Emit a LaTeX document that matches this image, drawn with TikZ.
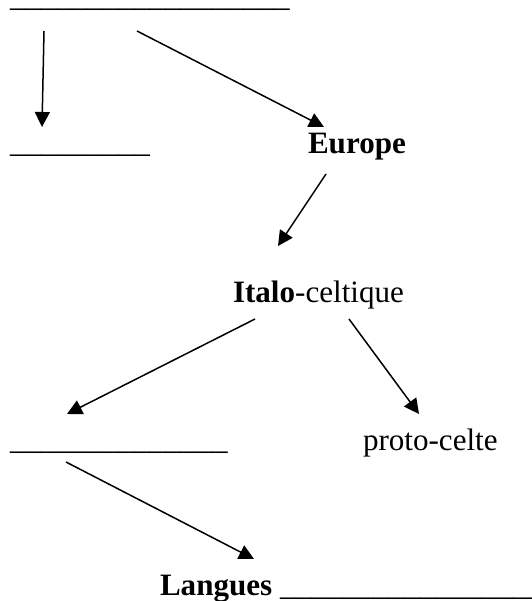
\documentclass[tikz,border=0pt]{standalone}
\usepackage{fontspec}
\setmainfont{Liberation Serif}
\usetikzlibrary{arrows.meta,calc}
\tikzset{
  lbl/.style={inner sep=0pt, outer sep=0pt, anchor=base west, font=\fontsize{31.2}{36}\selectfont},
  arr/.style={line width=1.5bp, -{Triangle[length=15bp,width=15bp]}}
}
\begin{document}
\begin{tikzpicture}[x=1bp,y=-1bp]
\useasboundingbox (0,0) rectangle (532,601);
\node[lbl] (top) at (10,7) {\_\_\_\_\_\_\_\_\_\_\_\_\_\_\_\_\_\_};
\node[lbl] (mid) at (10,153) {\_\_\_\_\_\_\_\_\_};
\node[lbl] (eu) at (308,154) {\textbf{Europe}};
\node[lbl] (it) at (233,302) {\textbf{Italo}-celtique};
\node[lbl] (low) at (10,449) {\_\_\_\_\_\_\_\_\_\_\_\_\_\_};
\node[lbl] (pc) at (363,450) {proto-celte};
\node[lbl] (la) at (160,595) {\textbf{Langues} \_\_\_\_\_\_\_\_\_\_\_\_\_\_\_\_\_};
\draw[arr] ($(top.base west)+(34,24)$) -- ($(mid.base west)+(32,-26)$);
\draw[arr] ($(top.base west)+(127,24)$) -- ($(eu.base west)+(16,-27)$);
\draw[arr] ($(eu.base west)+(18,20)$) -- ($(it.base west)+(45,-56)$);
\draw[arr] ($(it.base west)+(22,17)$) -- ($(low.base west)+(57,-35)$);
\draw[arr] ($(it.base west)+(116,17)$) -- ($(pc.base west)+(56,-36)$);
\draw[arr] ($(low.base west)+(56,13)$) -- ($(la.base west)+(94,-36)$);
\end{tikzpicture}
\end{document}
